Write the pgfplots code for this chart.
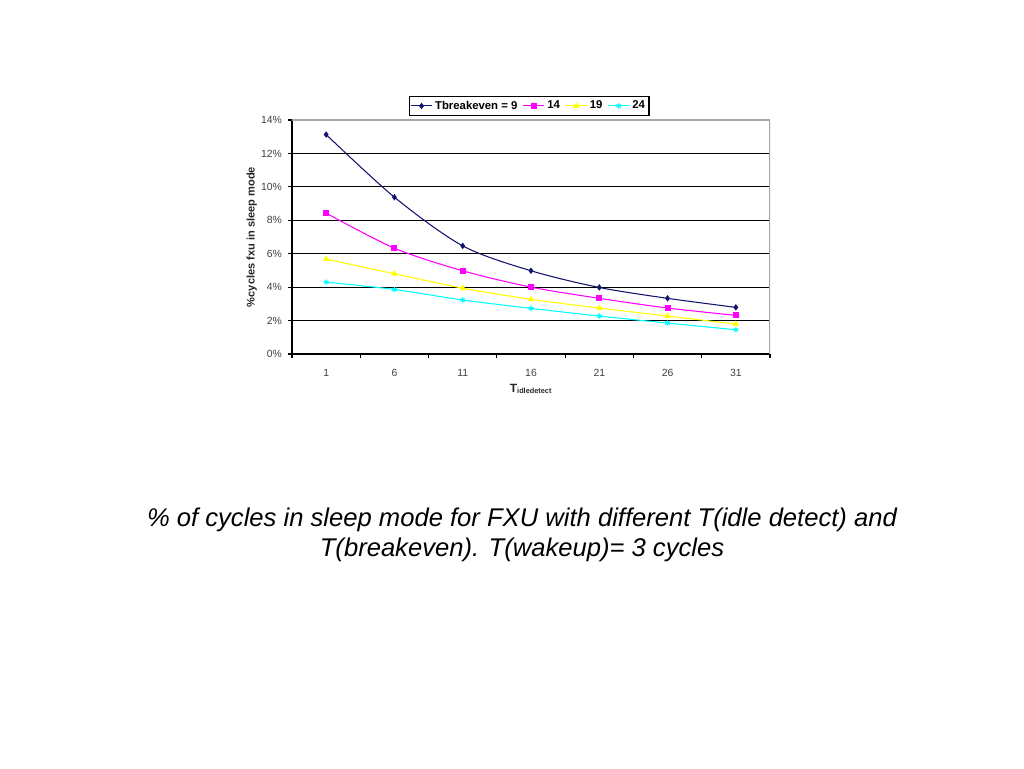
\documentclass[border=0pt]{standalone}
\usepackage{fontspec}
\setmainfont{Liberation Sans}
\usepackage{pgfplots}
\pgfplotsset{compat=1.18}
\definecolor{navyline}{RGB}{20,20,110}
\definecolor{magline}{RGB}{255,0,255}
\definecolor{yelline}{RGB}{255,255,0}
\definecolor{cyanline}{RGB}{0,255,255}
\begin{document}
\begin{tikzpicture}
\path[use as bounding box] (0,0) rectangle (768pt,576pt);
\begin{axis}[
  at={(219pt,310.5pt)}, anchor=south west,
  scale only axis, width=358.5pt, height=175.5pt,
  xmin=-1.5, xmax=33.5, ymin=0, ymax=14,
  xtick={1,6,11,16,21,26,31},
  minor xtick={-1.5,3.5,...,33.5},
  ytick={0,2,...,14},
  yticklabel={\pgfmathprintnumber{\tick}\%},
  /pgf/number format/assume math mode=true,
  tick align=outside,
  major tick length=3pt,
  minor tick length=3pt,
  xtick style={draw=none},
  minor x tick style={draw=black, line width=0.8pt},
  ytick style={draw=black, line width=0.8pt},
  ymajorgrids, grid style={black, line width=0.9pt},
  axis x line*=bottom, axis y line*=left,
  axis line style={black, line width=0.9pt, -},
  tick label style={font=\fontsize{7.8}{9}\selectfont, text=black!75},
  xticklabel style={yshift=-5pt},
  yticklabel style={xshift=-1pt},
  ylabel={\textbf{\%cycles fxu in sleep mode}},
  ylabel style={font=\fontsize{8.3}{10}\selectfont, text=black!85, at={(axis description cs:-0.084,0.5)}, anchor=center},
  xlabel={\textbf{T\textsubscript{\fontsize{5.5}{6}\selectfont idledetect}}},
  xlabel style={font=\fontsize{9}{10}\selectfont, text=black!85, at={(axis description cs:0.5,-0.15)}, anchor=center},
  legend columns=4,
  legend style={at={(rel axis cs:0.496,1.06)}, anchor=center, draw=black, line width=0.8pt,
    font=\bfseries\fontsize{8.5}{10}\selectfont, inner sep=1pt,
    /tikz/every even column/.append style={column sep=2pt}},
  legend image code/.code={\draw[#1] (0cm,0cm) -- (0.55cm,0cm); \draw[#1,mark repeat=1] plot coordinates {(0.275cm,0cm)};},
]
\addplot[navyline, line width=0.8pt, smooth, mark=diamond*, mark size=1.8pt, mark options={fill=navyline}]
  coordinates {(1,13.13) (6,9.38) (11,6.47) (16,4.98) (21,3.98) (26,3.33) (31,2.79)};
\addlegendentry{Tbreakeven = 9}
\addplot[magline, line width=0.8pt, smooth, mark=square*, mark size=1.8pt, mark options={fill=magline}]
  coordinates {(1,8.43) (6,6.33) (11,4.98) (16,4.0) (21,3.33) (26,2.75) (31,2.31)};
\addlegendentry{14}
\addplot[yelline, line width=0.8pt, smooth, mark=triangle*, mark size=2pt, mark options={fill=yelline}]
  coordinates {(1,5.68) (6,4.80) (11,3.94) (16,3.27) (21,2.75) (26,2.27) (31,1.79)};
\addlegendentry{19}
\addplot[cyanline, line width=0.8pt, smooth, mark=asterisk, mark size=2pt, mark options={line width=0.9pt}]
  coordinates {(1,4.30) (6,3.86) (11,3.23) (16,2.73) (21,2.27) (26,1.85) (31,1.45)};
\addlegendentry{24}
\draw[gray!70, line width=0.9pt] (rel axis cs:0,1) -- (rel axis cs:1,1) -- (rel axis cs:1,0);
\end{axis}
\node[align=center, font=\fontsize{19.2}{22.5}\selectfont\itshape] at (391.5pt,175pt)
  {\% of cycles in sleep mode for FXU with different T(idle detect) and\\T(breakeven). T(wakeup)= 3 cycles};
\end{tikzpicture}
\end{document}
